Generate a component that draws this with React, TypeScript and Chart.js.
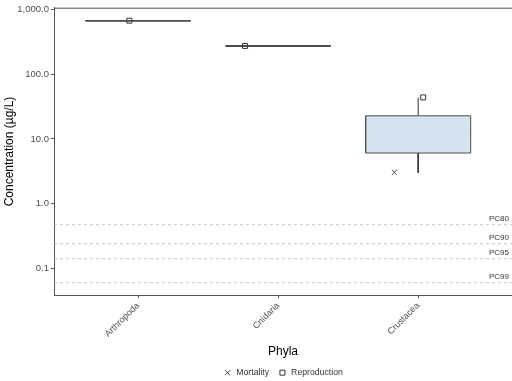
import React, { useEffect, useRef } from "react";
import { Chart, registerables } from "chart.js";

Chart.register(...registerables);

// ---- data ----
const categories = ["Arthropoda", "Cnidaria", "Crustacea"];
const boxLower = [676, 275, 6.06];
const boxMedian = [676, 275, 12.0];
const boxUpper = [676, 275, 22.8];
const whiskerLow = [676, 275, 3.0];
const whiskerHigh = [676, 275, 44];
const mortalityX = [2.83];
const mortalityY = [3.05];
const reproductionX = [0.938, 1.764, 3.036];
const reproductionY = [676, 275, 44];
const pcLabels = ["PC80", "PC90", "PC95", "PC99"];
const pcValues = [0.472, 0.24, 0.14, 0.0596];
const yTicks = [0.1, 1, 10, 100, 1000];

const X_MIN = 0.4;
const X_MAX = 3.67;
const Y_MIN = 0.0381;
const Y_MAX = 1074;
const BOX_HALF = 0.375;

const FONT = "'Liberation Sans', Arial, sans-serif";
const AXIS_COLOR = "#555555";
const TICK_TEXT = "#4d4d4d";

function buildDatasets() {
  const ds: any[] = [];
  pcValues.forEach((v, i) => {
    ds.push({
      label: pcLabels[i],
      data: [
        { x: X_MIN, y: v },
        { x: X_MAX, y: v },
      ],
      showLine: true,
      borderColor: "#b8b8b8",
      borderWidth: 0.8,
      borderDash: [3, 3],
      pointRadius: 0,
      fill: false,
    });
  });
  categories.forEach((c, i) => {
    const cx = i + 1;
    ds.push({
      label: c + " box",
      data: [
        { x: cx - BOX_HALF, y: boxLower[i] },
        { x: cx + BOX_HALF, y: boxLower[i] },
        { x: cx + BOX_HALF, y: boxUpper[i] },
        { x: cx - BOX_HALF, y: boxUpper[i] },
        { x: cx - BOX_HALF, y: boxLower[i] },
      ],
      showLine: true,
      fill: "shape",
      backgroundColor: "#d4e3f0",
      borderColor: "#4d4d4d",
      borderWidth: 1,
      pointRadius: 0,
      tension: 0,
    });
    ds.push({
      label: c + " median",
      data: [
        { x: cx - BOX_HALF, y: boxMedian[i] },
        { x: cx + BOX_HALF, y: boxMedian[i] },
      ],
      showLine: true,
      borderColor: "#1a1a1a",
      borderWidth: 1.6,
      pointRadius: 0,
      fill: false,
    });
    ds.push({
      label: c + " whisker hi",
      data: [
        { x: cx, y: boxUpper[i] },
        { x: cx, y: whiskerHigh[i] },
      ],
      showLine: true,
      borderColor: "#333333",
      borderWidth: 1,
      pointRadius: 0,
      fill: false,
    });
    ds.push({
      label: c + " whisker lo",
      data: [
        { x: cx, y: boxLower[i] },
        { x: cx, y: whiskerLow[i] },
      ],
      showLine: true,
      borderColor: "#333333",
      borderWidth: 1,
      pointRadius: 0,
      fill: false,
    });
  });
  ds.push({
    label: "Mortality",
    data: mortalityX.map((x, i) => ({ x, y: mortalityY[i] })),
    showLine: false,
    pointStyle: "crossRot",
    pointRadius: 3.5,
    borderColor: "#333333",
    backgroundColor: "rgba(0,0,0,0)",
    borderWidth: 0.9,
  });
  ds.push({
    label: "Reproduction",
    data: reproductionX.map((x, i) => ({ x, y: reproductionY[i] })),
    showLine: false,
    pointStyle: "rect",
    pointRadius: 3.5,
    borderColor: "#333333",
    backgroundColor: "rgba(0,0,0,0)",
    borderWidth: 1,
  });
  return ds;
}

const decorPlugin = {
  id: "decor",
  afterDatasetsDraw(chart: any) {
    const { ctx, chartArea, scales } = chart;
    ctx.save();
    // top border of panel
    ctx.strokeStyle = AXIS_COLOR;
    ctx.lineWidth = 1;
    ctx.beginPath();
    ctx.moveTo(chartArea.left, chartArea.top + 0.5);
    ctx.lineTo(chartArea.right, chartArea.top + 0.5);
    ctx.stroke();
    // PC labels
    ctx.fillStyle = "#333333";
    ctx.font = `8px ${FONT}`;
    ctx.textAlign = "right";
    ctx.textBaseline = "bottom";
    pcValues.forEach((v, i) => {
      const y = scales.y.getPixelForValue(v);
      ctx.fillText(pcLabels[i], chartArea.right - 3, y - 1.5);
    });
    ctx.restore();
  },
};

export default function App() {
  const ref = useRef<HTMLCanvasElement | null>(null);
  useEffect(() => {
    document.body.style.margin = "0";
    const canvas = ref.current!;
    const chart = new Chart(canvas, {
      type: "scatter",
      data: { datasets: buildDatasets() },
      options: {
        animation: false,
        responsive: false,
        layout: { autoPadding: false, padding: { top: 3, right: 0, left: 0, bottom: -6 } },
        plugins: {
          tooltip: { enabled: false },
          legend: {
            display: true,
            position: "bottom",
            fullSize: false,
            labels: {
              filter: (item: any) => item.text === "Mortality" || item.text === "Reproduction",
              usePointStyle: true,
              boxWidth: 9,
              boxHeight: 5,
              padding: 9,
              color: "#333333",
              font: { family: FONT, size: 8.7 },
            },
          },
        },
        scales: {
          x: {
            type: "linear",
            min: X_MIN,
            max: X_MAX,
            afterBuildTicks: (scale: any) => {
              scale.ticks = categories.map((_, i) => ({ value: i + 1 }));
            },
            afterFit: (scale: any) => {
              scale.height = 64;
              scale.paddingLeft = 0;
              scale.paddingRight = 0;
            },
            ticks: {
              callback: (v: any) => categories[Math.round(Number(v)) - 1] ?? "",
              minRotation: 45,
              maxRotation: 45,
              color: TICK_TEXT,
              font: { family: FONT, size: 9 },
              padding: 2,
            },
            grid: {
              display: true,
              drawOnChartArea: false,
              drawTicks: true,
              tickLength: 3,
              color: AXIS_COLOR,
            },
            border: { display: true, color: AXIS_COLOR, width: 1 },
            title: {
              display: true,
              text: "Phyla",
              color: "#000000",
              font: { family: FONT, size: 12 },
              padding: { top: 4, bottom: 0 },
            },
          },
          y: {
            type: "logarithmic",
            min: Y_MIN,
            max: Y_MAX,
            afterBuildTicks: (scale: any) => {
              scale.ticks = yTicks.map((v) => ({ value: v }));
            },
            afterFit: (scale: any) => {
              scale.width = 54;
            },
            ticks: {
              callback: (v: any) =>
                Number(v).toLocaleString("en-US", {
                  minimumFractionDigits: 1,
                  maximumFractionDigits: 1,
                }),
              color: TICK_TEXT,
              font: { family: FONT, size: 9.5 },
              padding: 2,
            },
            grid: {
              display: true,
              drawOnChartArea: false,
              drawTicks: true,
              tickLength: 3,
              color: AXIS_COLOR,
            },
            border: { display: true, color: AXIS_COLOR, width: 1 },
            title: {
              display: true,
              text: "Concentration (µg/L)",
              color: "#000000",
              font: { family: FONT, size: 12 },
              padding: { top: 2, bottom: 4 },
            },
          },
        },
      } as any,
      plugins: [decorPlugin],
    });
    return () => chart.destroy();
  }, []);
  return (
    <div style={{ width: 512, height: 381, position: "relative", background: "#ffffff" }}>
      <canvas ref={ref} width={512} height={381} style={{ display: "block" }} />
    </div>
  );
}
